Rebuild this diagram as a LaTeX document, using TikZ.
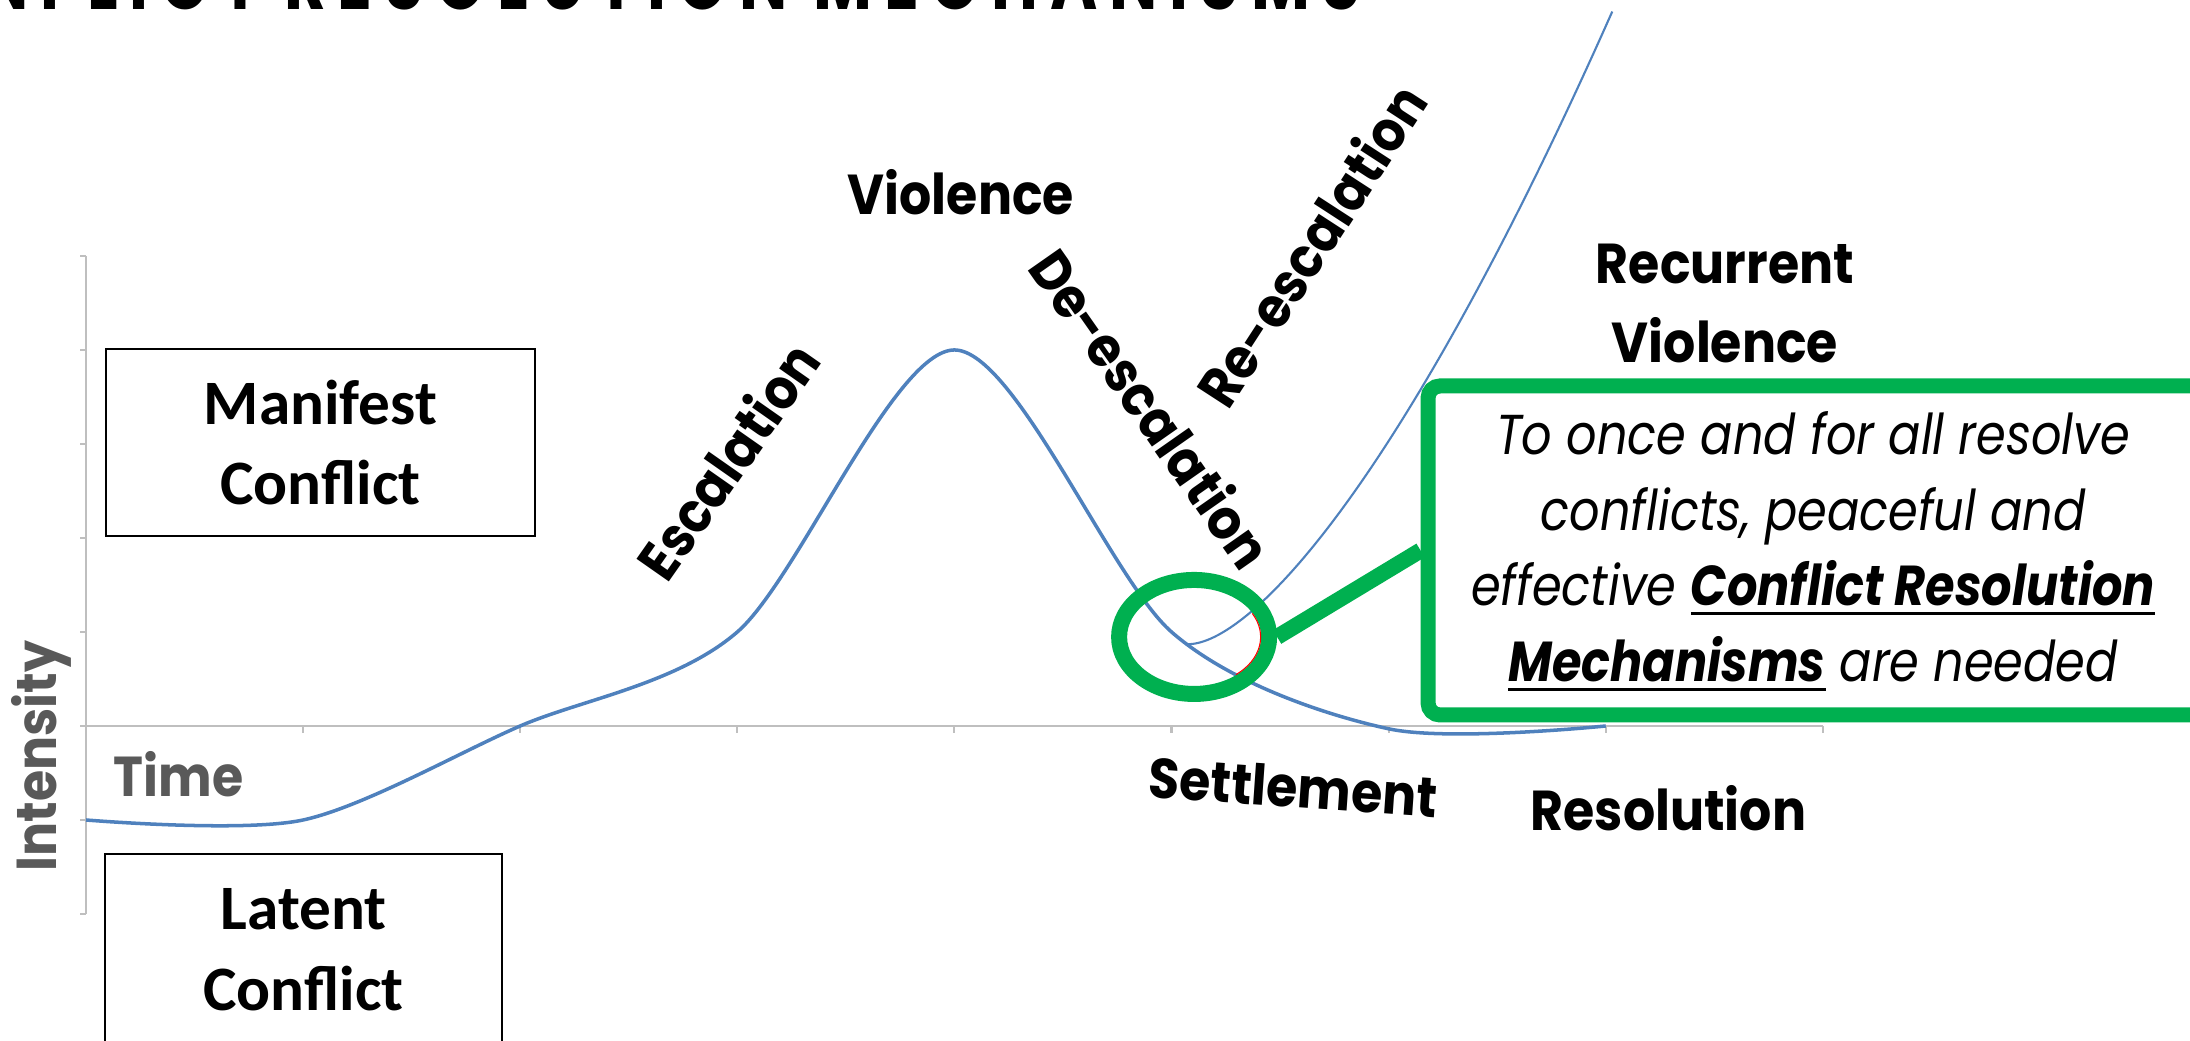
\documentclass[tikz,border=0pt]{standalone}
\usepackage{fontspec}
\setmainfont{Carlito}
\newfontfamily\geofont{Poppins}[FakeStretch=0.9]
\newfontfamily\corsivo{Poppins}[FakeStretch=0.85]
\newfontfamily\titolo{Poppins}[FakeStretch=0.76,LetterSpace=14]
\usetikzlibrary{shapes.geometric}
\definecolor{blu}{HTML}{4F81BD}
\definecolor{verde}{HTML}{00B050}
\definecolor{grigio}{HTML}{BFBFBF}
\definecolor{grigioscuro}{HTML}{595959}
\newcommand{\sotto}[1]{\setbox0\hbox{#1}\rlap{\rule[-0.095cm]{\wd0}{0.03cm}}\box0\relax}
\tikzset{
  fase/.style={font=\geofont\bfseries\fontsize{16}{20}\selectfont,inner sep=0pt},
  riquadro/.style={draw,line width=0.6pt,font=\bfseries\fontsize{18}{23}\selectfont,align=center,inner sep=0pt},
  assi/.style={grigio,line width=0.6pt}
}
\begin{document}
\begin{tikzpicture}[x=2.171cm,y=0.94cm]
  \useasboundingbox (-0.396,-3.351) rectangle (9.691,7.723);
  \node[anchor=base east,inner sep=0pt,font=\titolo\bfseries\fontsize{24}{28}\selectfont] (titolo) at (5.877,7.617) {CONFLICT RESOLUTION MECHANISMS};
  \draw[assi] (0,-2) -- (0,5); %asse y
  \foreach \y in {-2,...,5} \draw[assi] (0,\y) -- ++(-0.06cm,0);
  \draw[assi] (0,0) -- (8,0); %asse x
  \foreach \x in {1,...,8} \draw[assi] (\x,0) -- ++(0,-0.07cm);
  \node[fase,text=grigioscuro,anchor=base west] (tempo) at (0.124,-0.755) {Time};
  \node[fase,text=grigioscuro,rotate=90,anchor=base] (intensita) at (-0.134,-0.319) {Intensity};

  % andamento del conflitto
  \draw[blu,line width=1pt] plot[smooth,tension=0.5] coordinates {(0,-1) (1,-1) (2,0) (3,1) (4,4) (5,1) (6,-0.03) (7,0)};
  \draw[blu,line width=0.6pt] (5.07,0.87) .. controls (5.35,0.85) and (6.05,2.5) .. (7.03,7.6); %ri-escalation

  \node[riquadro,minimum width=4.29cm,minimum height=1.87cm] (manifesto) at (1.080,3.016) {Manifest\\Conflict};
  \node[riquadro,minimum width=3.97cm,minimum height=1.91cm] (latente) at (1.002,-2.378) {Latent\\Conflict};

  \node[fase,anchor=base] (violenza) at (4.03,5.44) {Violence};
  \node[fase,rotate=55] (escalation) at (2.953,2.830) {Escalation};
  \node[fase,rotate=-55] (deescalation) at (4.91,3.383) {De-escalation};
  \node[fase,rotate=57] (reescalation) at (5.64,5.117) {Re-escalation};
  \node[fase,align=center,font=\geofont\bfseries\fontsize{16}{22.7}\selectfont] (ricorrente) at (7.549,4.495) {Recurrent\\Violence};
  \node[fase,rotate=-4] (accordo) at (5.561,-0.649) {Settlement};
  \node[fase,anchor=base] (risoluzione) at (7.289,-1.117) {Resolution};

  % evidenziazione
  \node[draw=verde,line width=0.16cm,ellipse,minimum width=1.5cm,minimum height=1.14cm,inner sep=0pt] (cerchio) at (5.104,0.947) {};
  \draw[red,line width=0.3pt] (cerchio.center) ++(29:0.665cm and 0.485cm) arc[start angle=29,end angle=-51,x radius=0.665cm,y radius=0.485cm];
  \node[draw=verde,fill=white,line width=0.15cm,rounded corners=0.12cm,minimum width=7.87cm,minimum height=3.29cm,inner sep=0pt] (box) at (7.994,1.867) {};
  \draw[verde,line width=0.16cm] (cerchio.east) -- (box.west);
  \node[align=center,inner sep=0pt,font=\corsivo\itshape\fontsize{16}{21.5}\selectfont] (testo) at (7.955,1.86)
    {To once and for all resolve\\conflicts, peaceful and\\effective \sotto{\textbf{Conflict Resolution}}\\\sotto{\textbf{Mechanisms}} are needed};
\end{tikzpicture}
\end{document}
